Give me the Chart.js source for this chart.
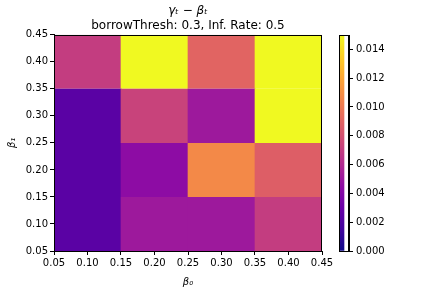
<!DOCTYPE html>
<html>
<head>
<meta charset="utf-8">
<script src="https://cdn.jsdelivr.net/npm/chart.js@4.4.0/dist/chart.umd.min.js"></script>
<style>
  html, body { margin: 0; padding: 0; background: #fff; }
  #wrap { position: relative; width: 432px; height: 288px; }
  #heat { position: absolute; left: 0; top: 0; }
  #cbar { position: absolute; left: 300px; top: 0; }
</style>
</head>
<body>
<div id="wrap">
  <canvas id="heat" width="432" height="288"></canvas>
  <canvas id="cbar" width="132" height="288"></canvas>
</div>
<script>
// cell centres along beta_0 (x) and beta_1 (y)
const beta0 = [0.1, 0.2, 0.3, 0.4];
const beta1 = [0.1, 0.2, 0.3, 0.4];
const cellHalf = 0.05;

// gamma_t - beta_t, one array per beta_1 row (left to right in beta_0)
const row010 = [0.0024, 0.0051, 0.0051, 0.0070];
const row020 = [0.0024, 0.0044, 0.0107, 0.0087];
const row030 = [0.0024, 0.0073, 0.0051, 0.0150];
const row040 = [0.0070, 0.0150, 0.0090, 0.0150];
const rows = [row010, row020, row030, row040];

const vMin = 0;
const vMax = 0.015;
const cbarTicks = [0, 0.002, 0.004, 0.006, 0.008, 0.010, 0.012, 0.014];
const axisTicks = [0.05, 0.10, 0.15, 0.20, 0.25, 0.30, 0.35, 0.40, 0.45];

// plasma colormap
const plasma = ["#0d0887", "#41049d", "#6a00a8", "#8f0da4", "#b12a90", "#cc4778",
                "#e16462", "#f2844b", "#fca636", "#fcce25", "#f0f921"];

function hexRgb(h) {
  return [parseInt(h.slice(1, 3), 16), parseInt(h.slice(3, 5), 16), parseInt(h.slice(5, 7), 16)];
}

function colorFor(v) {
  let t = (v - vMin) / (vMax - vMin);
  t = Math.max(0, Math.min(1, t));
  const p = t * (plasma.length - 1);
  const i = Math.min(Math.floor(p), plasma.length - 2);
  const f = p - i;
  const a = hexRgb(plasma[i]), b = hexRgb(plasma[i + 1]);
  const c = a.map((x, k) => Math.round(x + (b[k] - x) * f));
  return `rgb(${c[0]},${c[1]},${c[2]})`;
}

Chart.defaults.font.family = "'DejaVu Sans', sans-serif";
Chart.defaults.font.size = 10;
Chart.defaults.color = "#000";

const boxPlugin = {
  id: "box",
  afterDatasetsDraw(chart) {
    const a = chart.chartArea;
    const c = chart.ctx;
    c.save();
    c.strokeStyle = "#000";
    c.lineWidth = 1;
    c.strokeRect(Math.round(a.left) + 0.5, Math.round(a.top) + 0.5,
                 Math.round(a.right - a.left) - 1, Math.round(a.bottom - a.top));
    c.restore();
  }
};

// ticks every 0.05 make the bar ruler half a cell, so double the bar width
const datasets = rows.map((vals, r) => ({
  data: beta0.map(x => ({ x: x, y: [beta1[r] - cellHalf, beta1[r] + cellHalf] })),
  backgroundColor: vals.map(colorFor),
  borderWidth: 0,
  barPercentage: 2.02,
  categoryPercentage: 1,
  grouped: false
}));

new Chart(document.getElementById("heat"), {
  type: "bar",
  data: { datasets: datasets },
  options: {
    responsive: false,
    animation: false,
    layout: { padding: { left: 0, right: 110, top: 0, bottom: 0 } },
    plugins: {
      legend: { display: false },
      tooltip: { enabled: false },
      title: {
        display: true,
        fullSize: false,
        text: "γₜ − βₜ",
        font: { size: 12, style: "italic", weight: "normal" },
        padding: { top: 4, bottom: 0 }
      },
      subtitle: {
        display: true,
        fullSize: false,
        text: "borrowThresh: 0.3, Inf. Rate: 0.5",
        color: "#000",
        font: { size: 12, weight: "normal" },
        padding: { top: 0, bottom: 2 }
      }
    },
    scales: {
      x: {
        type: "linear",
        min: 0.05,
        max: 0.45,
        offset: false,
        afterBuildTicks: s => { s.ticks = axisTicks.map(v => ({ value: v })); },
        afterFit: s => { s.height = 37; },
        ticks: { callback: v => v.toFixed(2), maxRotation: 0, padding: 2 },
        grid: { drawOnChartArea: false, offset: false, tickLength: 4, tickColor: "#000" },
        border: { color: "#000" },
        title: { display: true, text: "β₀", font: { size: 10, style: "italic" }, padding: { top: 1, bottom: 0 } }
      },
      y: {
        type: "linear",
        min: 0.05,
        max: 0.45,
        afterBuildTicks: s => { s.ticks = axisTicks.map(v => ({ value: v })); },
        afterFit: s => { s.width = 54; },
        ticks: { callback: v => v.toFixed(2), padding: 2 },
        grid: { drawOnChartArea: false, tickLength: 4, tickColor: "#000" },
        border: { color: "#000" },
        title: { display: true, text: "β₁", font: { size: 10, style: "italic" }, padding: { top: 6, bottom: 0 } }
      }
    }
  },
  plugins: [boxPlugin]
});

new Chart(document.getElementById("cbar"), {
  type: "bar",
  data: {
    labels: ["cb"],
    datasets: [{
      data: [[vMin, vMax]],
      backgroundColor: ctx => {
        const area = ctx.chart.chartArea;
        if (!area) return plasma[0];
        const g = ctx.chart.ctx.createLinearGradient(0, area.bottom, 0, area.top);
        plasma.forEach((c, i) => g.addColorStop(i / (plasma.length - 1), c));
        return g;
      },
      borderWidth: 0,
      barPercentage: 1,
      categoryPercentage: 1
    }]
  },
  options: {
    responsive: false,
    animation: false,
    layout: { padding: { left: 39, right: 0, top: 35, bottom: 37 } },
    plugins: { legend: { display: false }, tooltip: { enabled: false } },
    scales: {
      x: { display: false, offset: false },
      y: {
        position: "right",
        min: vMin,
        max: vMax,
        afterBuildTicks: s => { s.ticks = cbarTicks.map(v => ({ value: v })); },
        afterFit: s => { s.width = 83; },
        ticks: { callback: v => v.toFixed(3), padding: 3 },
        grid: { drawOnChartArea: false, tickLength: 4, tickColor: "#000" },
        border: { color: "#000" }
      }
    }
  },
  plugins: [boxPlugin]
});
</script>
</body>
</html>
